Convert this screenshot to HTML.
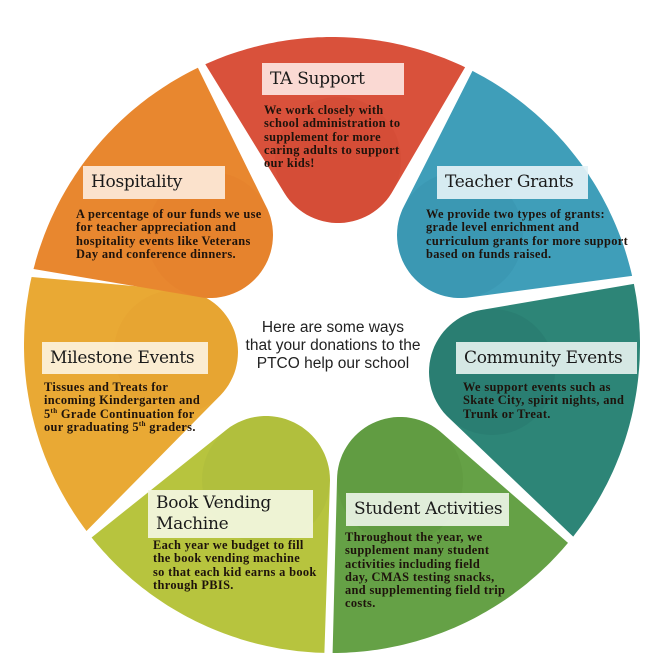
<!DOCTYPE html>
<html><head><meta charset="utf-8">
<style>
html,body{margin:0;padding:0;background:#fff;}
#wrap{position:relative;width:663px;height:662px;overflow:hidden;font-family:"Liberation Serif",serif;}
svg{position:absolute;left:0;top:0;}
.lb{position:absolute;background:rgba(255,255,255,0.84);font-family:"DejaVu Serif","Liberation Serif",serif;font-size:17px;color:#1a1a1a;line-height:20px;padding:0 0 0 8px;box-sizing:border-box;white-space:nowrap;letter-spacing:-0.3px}
.bd{position:absolute;font-family:"Liberation Serif",serif;font-weight:bold;font-size:12.4px;letter-spacing:0.35px;line-height:13.3px;color:#1e130c;white-space:nowrap;}
.ct{position:absolute;left:213px;top:319px;width:240px;text-align:center;font-family:"Liberation Sans",sans-serif;font-size:15.5px;line-height:18px;color:#222;}
sup{font-size:7px;line-height:0}
</style></head><body>
<div id="wrap">
<svg id="sv" width="663" height="662" viewBox="0 0 663 662"></svg>

<div class="lb" style="left:262px;top:63px;width:142px;height:32px;line-height:32px;background:rgba(253,232,228,0.9)">TA Support</div>
<div class="bd" style="left:264px;top:104px">We work closely with<br>school administration to<br>supplement for more<br>caring adults to support<br>our kids!</div>

<div class="lb" style="left:83px;top:166px;width:142px;height:33px;line-height:33px;background:rgba(253,236,222,0.9)">Hospitality</div>
<div class="bd" style="left:76px;top:208px">A percentage of our funds we use<br>for teacher appreciation and<br>hospitality events like Veterans<br>Day and conference dinners.</div>

<div class="lb" style="left:437px;top:166px;width:151px;height:33px;line-height:33px;background:rgba(228,242,246,0.92)">Teacher Grants</div>
<div class="bd" style="left:426px;top:208px">We provide two types of grants:<br>grade level enrichment and<br>curriculum grants for more support<br>based on funds raised.</div>

<div class="lb" style="left:42px;top:342px;width:166px;height:32px;line-height:32px;background:rgba(253,244,226,0.9)">Milestone Events</div>
<div class="bd" style="left:44px;top:381px">Tissues and Treats for<br>incoming Kindergarten and<br>5<sup>th</sup> Grade Continuation for<br>our graduating 5<sup>th</sup> graders.</div>

<div class="lb" style="left:456px;top:342px;width:181px;height:32px;line-height:32px;background:rgba(228,241,238,0.92)">Community Events</div>
<div class="bd" style="left:463px;top:381px">We support events such as<br>Skate City, spirit nights, and<br>Trunk or Treat.</div>

<div class="lb" style="left:148px;top:490px;width:165px;height:48px;padding-top:3px;line-height:21px;background:rgba(245,248,228,0.9)">Book Vending<br>Machine</div>
<div class="bd" style="left:153px;top:539px">Each year we budget to fill<br>the book vending machine<br>so that each kid earns a book<br>through PBIS.</div>

<div class="lb" style="left:346px;top:493px;width:163px;height:33px;line-height:33px;background:rgba(236,244,230,0.92)">Student Activities</div>
<div class="bd" style="left:345px;top:531px">Throughout the year, we<br>supplement many student<br>activities including field<br>day, CMAS testing snacks,<br>and supplementing field trip<br>costs.</div>

<div class="ct">Here are some ways<br>that your donations to the<br>PTCO help our school</div>
</div>
<script>
(function(){
var cx=332,cy=345,R=308;
var P=[
 {c:'#d9513b',d:'#cc4430',b:[338,160,63]},
 {c:'#3f9eb9',d:'#338ca6',b:[460,235,63]},
 {c:'#2d8577',d:'#257266',b:[492,372,63]},
 {c:'#65a146',d:'#5a933c',b:[400,480,63]},
 {c:'#b7c43e',d:'#a4b23a',b:[266,480,64]},
 {c:'#e9a934',d:'#e39a30',b:[176,352,62]},
 {c:'#e8872f',d:'#e27a2c',b:[210,235,63]}
];
function hull(pts){
 pts.sort(function(a,b){return a[0]-b[0]||a[1]-b[1];});
 function cr(o,a,b){return (a[0]-o[0])*(b[1]-o[1])-(a[1]-o[1])*(b[0]-o[0]);}
 var lo=[],up=[];
 for(var i=0;i<pts.length;i++){while(lo.length>=2&&cr(lo[lo.length-2],lo[lo.length-1],pts[i])<=0)lo.pop();lo.push(pts[i]);}
 for(var i=pts.length-1;i>=0;i--){while(up.length>=2&&cr(up[up.length-2],up[up.length-1],pts[i])<=0)up.pop();up.push(pts[i]);}
 up.pop();lo.pop();return lo.concat(up);
}
var s='';
for(var i=0;i<7;i++){
 var a1=(-114.3+51.43*i)*Math.PI/180,a2=a1+49.9*Math.PI/180;
 var pts=[];
 for(var k=0;k<=60;k++){var a=a1+(a2-a1)*k/60;pts.push([cx+R*Math.cos(a),cy+R*Math.sin(a)]);}
 var b=P[i].b;
 for(var k=0;k<90;k++){var a=k*4*Math.PI/180;pts.push([b[0]+b[2]*Math.cos(a),b[1]+b[2]*Math.sin(a)]);}
 var h=hull(pts);
 var d='M'+h.map(function(p){return p[0].toFixed(1)+','+p[1].toFixed(1);}).join('L')+'Z';
 s+='<clipPath id="cp'+i+'"><path d="'+d+'"/></clipPath>';
 s+='<path d="'+d+'" fill="'+P[i].c+'"/>';
 s+='<circle clip-path="url(#cp'+i+')" cx="'+b[0]+'" cy="'+b[1]+'" r="'+b[2]+'" fill="'+P[i].d+'" opacity="0.3"/>';
}
document.getElementById('sv').innerHTML=s;
})();
</script>
</body></html>
